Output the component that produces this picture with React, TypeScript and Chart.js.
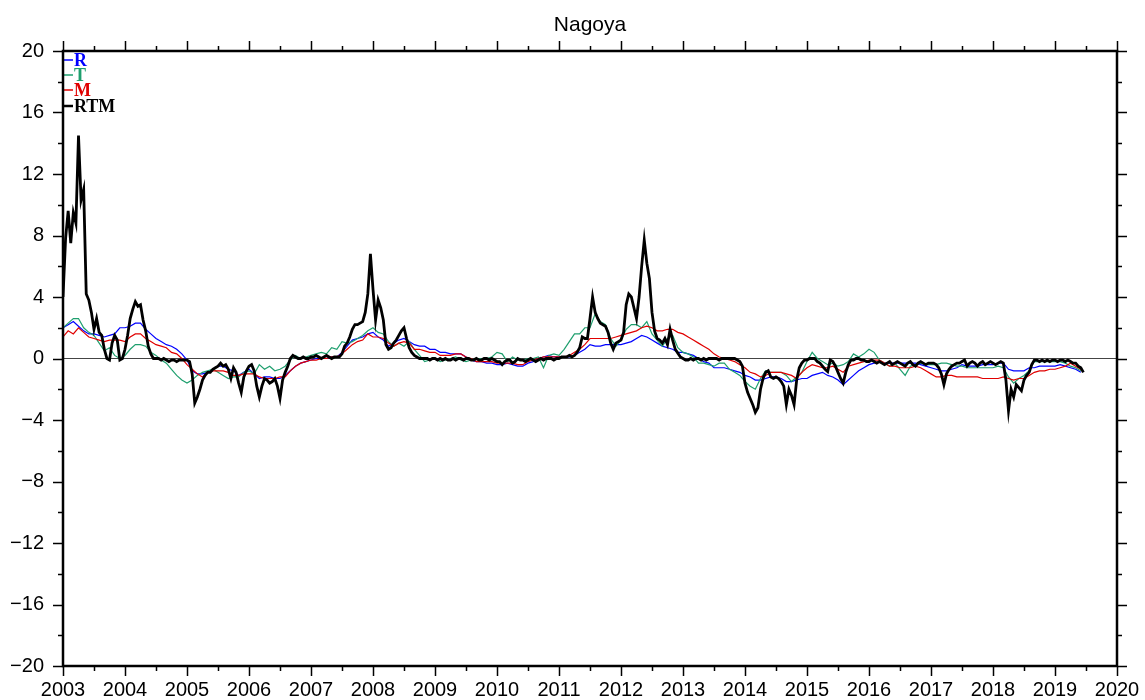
import React, { useEffect, useRef } from "react";
import { Chart, registerables } from "chart.js";

Chart.register(...registerables);

// Time axis: decimal years
const START_YEAR = 2003;
const X_MIN = 2003;
const X_MAX = 2020;
const Y_MIN = -20;
const Y_MAX = 20;

const yearTicks = [2003, 2004, 2005, 2006, 2007, 2008, 2009, 2010, 2011, 2012, 2013, 2014, 2015, 2016, 2017, 2018, 2019, 2020];
const valueTicks = [-20, -16, -12, -8, -4, 0, 4, 8, 12, 16, 20];

const titleText = "Nagoya";
const legendLabels = ["R", "T", "M", "RTM"];

// Monthly values, one row per year (2003 .. mid-2019)
const seriesR = [
  2.0, 2.2, 2.4, 2.1, 1.8, 1.6, 1.6, 1.5, 1.4, 1.5, 1.6, 2.0,
  2.0, 2.1, 2.3, 2.3, 1.9, 1.6, 1.3, 1.1, 0.9, 0.8, 0.6, 0.3,
  -0.1, -0.8, -1.0, -1.0, -0.9, -0.7, -0.5, -0.5, -0.7, -0.8, -1.1, -0.9,
  -0.7, -1.0, -1.3, -1.2, -1.2, -1.3, -1.3, -1.1, -0.8, -0.5, -0.3, -0.2,
  -0.1, 0.0, 0.0, 0.0, 0.1, 0.1, 0.4, 0.8, 1.2, 1.3, 1.4, 1.6,
  1.7, 1.4, 1.2, 0.8, 1.0, 1.2, 1.3, 1.1, 0.9, 0.8, 0.8, 0.6,
  0.6, 0.4, 0.4, 0.3, 0.3, 0.3, 0.1, -0.1, -0.2, -0.2, -0.3, -0.3,
  -0.4, -0.4, -0.3, -0.4, -0.5, -0.5, -0.3, -0.2, 0.0, 0.1, 0.2, 0.1,
  0.1, 0.1, 0.1, 0.2, 0.4, 0.6, 0.9, 0.8, 0.8, 0.9, 0.9, 0.9,
  0.9, 1.0, 1.1, 1.3, 1.5, 1.4, 1.2, 1.0, 0.8, 0.7, 0.6, 0.4,
  0.4, 0.3, 0.2, 0.0, -0.2, -0.3, -0.6, -0.6, -0.6, -0.7, -0.8, -0.9,
  -1.1, -1.2, -1.4, -1.4, -1.3, -1.2, -1.2, -1.3, -1.5, -1.5, -1.4, -1.3,
  -1.3, -1.1, -1.0, -0.9, -1.1, -1.2, -1.4, -1.7, -1.4, -1.1, -0.8, -0.6,
  -0.4, -0.3, -0.2, -0.3, -0.3, -0.3, -0.3, -0.3, -0.3, -0.3, -0.4, -0.5,
  -0.6, -0.7, -0.8, -0.8, -0.7, -0.6, -0.4, -0.5, -0.5, -0.5, -0.4, -0.4,
  -0.4, -0.3, -0.3, -0.7, -0.8, -0.8, -0.8, -0.6, -0.6, -0.5, -0.5, -0.5,
  -0.5, -0.4, -0.5, -0.6, -0.7, -0.9,
];

const seriesT = [
  2.0, 2.3, 2.6, 2.6, 2.0, 1.7, 1.5, 1.0, 0.5, 0.7, 0.2, 0.0,
  0.2, 0.6, 0.9, 0.9, 0.8, 0.4, 0.2, -0.1, -0.3, -0.7, -1.1, -1.4,
  -1.6, -1.4, -1.1, -0.9, -0.8, -0.7, -0.9, -1.1, -1.3, -1.2, -1.2, -0.9,
  -0.8, -1.0, -0.4, -0.7, -0.5, -0.8, -0.7, -0.5, -0.1, 0.2, 0.0, 0.1,
  0.2, 0.3, 0.4, 0.3, 0.7, 0.6, 1.1, 1.0, 1.1, 1.3, 1.5, 1.8,
  2.0, 1.7, 1.6, 1.1, 0.8, 1.0, 0.8, 1.1, 0.6, 0.2, -0.2, -0.1,
  0.0, -0.2, -0.1, 0.0, 0.1, -0.1, -0.2, -0.1, 0.0, 0.0, 0.0, 0.1,
  0.4, 0.3, -0.2, 0.1, -0.1, -0.1, 0.0, 0.0, 0.1, -0.6, 0.2, 0.3,
  0.2, 0.6, 1.1, 1.6, 1.6, 2.0, 2.0, 2.9, 2.4, 2.2, 1.3, 0.8,
  1.2, 1.9, 2.2, 2.2, 2.0, 2.4, 1.6, 1.2, 0.8, 1.3, 1.5, 0.7,
  0.4, 0.3, 0.1, -0.3, -0.3, -0.4, -0.5, -0.3, -0.3, -0.7, -0.9, -1.1,
  -1.5, -1.8, -2.0, -1.3, -0.8, -0.9, -0.9, -0.9, -1.1, -1.5, -1.2, -0.9,
  -0.2, 0.4, 0.0, -0.2, -0.4, -0.3, -0.5, -0.4, -0.2, 0.3, 0.1, 0.3,
  0.6, 0.4, -0.1, -0.3, -0.5, -0.3, -0.7, -1.1, -0.5, -0.4, -0.3, -0.4,
  -0.4, -0.4, -0.3, -0.3, -0.4, -0.5, -0.5, -0.6, -0.6, -0.6, -0.6, -0.6,
  -0.6, -0.5, -0.6, -1.2, -1.6, -1.3, -1.1, -0.8, -0.2, -0.2, -0.2, -0.2,
  -0.2, -0.2, -0.3, -0.5, -0.6, -0.8,
];

const seriesM = [
  1.4, 1.8, 1.6, 2.0, 1.7, 1.4, 1.3, 1.2, 1.1, 1.2, 1.2, 1.2,
  1.1, 1.4, 1.6, 1.6, 1.3, 1.1, 0.9, 0.8, 0.7, 0.4, 0.3, 0.0,
  -0.4, -0.7, -1.0, -1.2, -0.9, -0.8, -0.8, -0.8, -0.9, -1.1, -1.1, -1.0,
  -1.0, -1.0, -1.2, -1.3, -1.3, -1.3, -1.2, -1.2, -0.8, -0.5, -0.3, -0.2,
  -0.1, -0.1, 0.0, 0.0, 0.1, 0.1, 0.3, 0.6, 0.9, 1.1, 1.2, 1.6,
  1.4, 1.4, 1.3, 1.0, 0.8, 1.0, 1.1, 1.0, 0.6, 0.6, 0.5, 0.4,
  0.4, 0.2, 0.2, 0.2, 0.3, 0.3, 0.1, 0.0, -0.2, -0.2, -0.2, -0.2,
  -0.3, -0.3, -0.3, -0.3, -0.4, -0.4, -0.2, -0.1, 0.0, 0.1, 0.1, 0.1,
  0.1, 0.1, 0.2, 0.4, 0.6, 0.9, 1.3, 1.3, 1.3, 1.3, 1.3, 1.4,
  1.5, 1.6, 1.7, 1.8, 2.0, 2.1, 2.0, 1.8, 1.8, 1.9, 1.9, 1.7,
  1.6, 1.4, 1.2, 1.0, 0.8, 0.6, 0.3, 0.1, 0.0, -0.1, -0.2, -0.4,
  -0.6, -0.9, -1.0, -1.2, -1.1, -0.9, -0.9, -0.9, -1.0, -1.1, -1.3, -0.9,
  -0.6, -0.4, -0.5, -0.6, -0.6, -0.5, -0.7, -0.9, -0.5, -0.4, -0.3, -0.2,
  -0.1, -0.1, -0.1, -0.3, -0.5, -0.5, -0.6, -0.6, -0.6, -0.5, -0.6, -0.8,
  -1.0, -1.2, -1.2, -1.1, -1.1, -1.2, -1.2, -1.2, -1.2, -1.2, -1.3, -1.3,
  -1.3, -1.3, -1.2, -1.3, -1.4, -1.3, -1.3, -1.1, -0.9, -0.8, -0.8, -0.7,
  -0.7, -0.6, -0.5, -0.3, -0.5, -0.7,
];

// Half-monthly values, one row per year
const seriesRTM = [
  4.0, 7.8, 9.6, 7.5, 9.5, 8.8, 14.5, 10.3, 11.0, 4.2, 3.8, 3.0, 1.9, 2.6, 1.7, 1.5, 0.6, 0.0, -0.1, 1.0, 1.5, 1.2, -0.1, 0.0,
  0.6, 1.5, 2.6, 3.2, 3.7, 3.4, 3.5, 2.5, 1.8, 0.8, 0.3, 0.0, 0.0, 0.0, -0.1, 0.0, -0.1, -0.2, -0.1, -0.1, -0.2, -0.1, -0.1, -0.1,
  -0.1, -0.2, -1.0, -2.9, -2.5, -2.0, -1.4, -1.1, -0.9, -0.9, -0.7, -0.6, -0.5, -0.3, -0.5, -0.4, -0.7, -1.3, -0.6, -0.9, -1.6, -2.2, -1.2, -0.8,
  -0.5, -0.4, -0.8, -1.8, -2.5, -1.8, -1.3, -1.4, -1.6, -1.5, -1.3, -1.8, -2.6, -1.4, -0.9, -0.5, 0.0, 0.2, 0.1, 0.0, 0.0, 0.1, 0.0, 0.0,
  0.1, 0.1, 0.2, 0.1, 0.0, 0.1, 0.2, 0.1, 0.0, 0.1, 0.1, 0.1, 0.3, 0.8, 1.0, 1.4, 1.9, 2.2, 2.2, 2.3, 2.4, 3.0, 4.2, 6.8,
  4.5, 2.5, 3.8, 3.3, 2.5, 0.9, 0.6, 0.7, 1.0, 1.2, 1.5, 1.8, 2.0, 1.3, 0.7, 0.4, 0.2, 0.1, 0.0, 0.0, 0.0, 0.0, -0.1, 0.0,
  0.0, -0.1, 0.0, -0.1, 0.0, -0.1, -0.1, 0.0, -0.1, 0.0, 0.0, -0.1, 0.0, 0.0, -0.1, -0.1, 0.0, -0.1, -0.1, 0.0, 0.0, -0.1, 0.0, -0.1,
  -0.2, -0.2, -0.4, -0.2, -0.1, -0.1, -0.3, -0.2, 0.0, -0.1, -0.1, -0.2, -0.1, 0.0, -0.1, -0.2, -0.1, 0.0, -0.1, 0.0, 0.0, 0.0, -0.1, 0.0,
  0.0, 0.1, 0.1, 0.1, 0.2, 0.1, 0.2, 0.4, 0.7, 1.4, 1.3, 1.3, 2.6, 4.0, 3.0, 2.6, 2.3, 2.2, 2.1, 1.7, 1.0, 0.6, 1.0, 1.1,
  1.2, 1.7, 3.5, 4.2, 4.0, 3.3, 2.6, 4.0, 6.0, 7.7, 6.2, 5.2, 3.0, 1.8, 1.3, 1.2, 1.0, 1.3, 0.9, 1.9, 1.2, 0.6, 0.35, 0.1,
  0.0, -0.1, -0.1, 0.0, -0.1, 0.0, 0.0, -0.1, 0.0, -0.1, 0.0, 0.0, 0.0, 0.0, -0.1, 0.0, 0.0, 0.0, 0.0, 0.0, 0.0, -0.1, -0.2, -0.5,
  -1.6, -2.2, -2.6, -3.0, -3.5, -3.2, -2.0, -1.3, -0.9, -0.8, -1.2, -1.3, -1.2, -1.3, -1.5, -1.8, -3.0, -2.0, -2.4, -3.0, -1.4, -0.6, -0.3, -0.1,
  -0.1, 0.0, 0.0, 0.0, -0.2, -0.3, -0.5, -0.7, -0.85, -0.1, -0.2, -0.5, -0.9, -1.3, -1.6, -0.9, -0.4, -0.1, -0.1, 0.0, 0.0, -0.1, -0.1, -0.2,
  -0.2, -0.1, -0.2, -0.3, -0.2, -0.3, -0.4, -0.3, -0.2, -0.4, -0.3, -0.2, -0.3, -0.4, -0.5, -0.3, -0.2, -0.4, -0.5, -0.3, -0.2, -0.3, -0.4, -0.3,
  -0.3, -0.3, -0.4, -0.6, -1.0, -1.7, -1.0, -0.7, -0.5, -0.4, -0.3, -0.3, -0.2, -0.1, -0.5, -0.3, -0.2, -0.3, -0.5, -0.3, -0.2, -0.4, -0.3, -0.2,
  -0.3, -0.4, -0.3, -0.2, -0.3, -1.4, -3.4, -2.0, -2.5, -1.7, -1.9, -2.1, -1.4, -1.1, -0.9, -0.4, -0.1, -0.1, -0.2, -0.1, -0.2, -0.1, -0.2, -0.1,
  -0.1, -0.2, -0.1, -0.1, -0.2, -0.1, -0.2, -0.3, -0.3, -0.5, -0.6, -0.9,
];

const COLOR_R = "#0000ff";
const COLOR_T = "#1e9f6e";
const COLOR_M = "#e00000";
const COLOR_RTM = "#000000";

const toPoints = (values: number[], perYear: number) =>
  values.map((v, i) => ({ x: START_YEAR + i / perYear, y: v }));

const formatValue = (v: number) => (v < 0 ? "\u2212" + Math.abs(v) : String(v));

const tickFont = { family: "'Liberation Sans', Arial, Helvetica, sans-serif", size: 20 };

// Frame, outward tick marks, zero line, title and legend
const framePlugin = {
  id: "gmtFrame",
  beforeDatasetsDraw(chart: any) {
    const { ctx, chartArea } = chart;
    const y0 = chart.scales.y.getPixelForValue(0);
    ctx.save();
    ctx.strokeStyle = "#444";
    ctx.lineWidth = 1.2;
    ctx.beginPath();
    ctx.moveTo(chartArea.left, y0);
    ctx.lineTo(chartArea.right, y0);
    ctx.stroke();
    ctx.restore();
  },
  afterDatasetsDraw(chart: any) {
    const { ctx, chartArea } = chart;
    const { left, top } = chartArea;
    const entries = [
      { label: legendLabels[0], color: COLOR_R, width: 1.5, y: top + 9 },
      { label: legendLabels[1], color: COLOR_T, width: 1.5, y: top + 24 },
      { label: legendLabels[2], color: COLOR_M, width: 1.5, y: top + 39 },
      { label: legendLabels[3], color: COLOR_RTM, width: 2.5, y: top + 55 },
    ];
    ctx.save();
    ctx.font = "bold 18px 'Liberation Serif', 'Times New Roman', serif";
    ctx.textBaseline = "middle";
    ctx.textAlign = "left";
    for (const e of entries) {
      ctx.strokeStyle = e.color;
      ctx.lineWidth = e.width;
      ctx.beginPath();
      ctx.moveTo(left, e.y);
      ctx.lineTo(left + 10, e.y);
      ctx.stroke();
      ctx.fillStyle = e.color;
      ctx.fillText(e.label, left + 11, e.y + 1);
    }
    ctx.restore();
  },
  afterDraw(chart: any) {
    const { ctx, chartArea } = chart;
    const { left, right, top, bottom } = chartArea;
    const xs = chart.scales.x;
    const ys = chart.scales.y;
    ctx.save();
    ctx.strokeStyle = "#000";
    ctx.lineWidth = 1.5;
    ctx.beginPath();
    for (let i = 0; i <= (X_MAX - X_MIN) * 2; i++) {
      const v = X_MIN + i / 2;
      const px = Math.round(xs.getPixelForValue(v)) + 0.5;
      const len = i % 2 === 0 ? 10 : 5;
      ctx.moveTo(px, bottom);
      ctx.lineTo(px, bottom + len);
      ctx.moveTo(px, top);
      ctx.lineTo(px, top - len);
    }
    for (let v = Y_MIN; v <= Y_MAX; v += 2) {
      const py = Math.round(ys.getPixelForValue(v)) + 0.5;
      const len = v % 4 === 0 ? 10 : 5;
      ctx.moveTo(left - len, py);
      ctx.lineTo(left, py);
      ctx.moveTo(right, py);
      ctx.lineTo(right + len, py);
    }
    ctx.stroke();
    ctx.lineWidth = 2.5;
    ctx.strokeRect(left, top, right - left, bottom - top);

    ctx.fillStyle = "#000";
    ctx.font = "21px 'Liberation Sans', Arial, Helvetica, sans-serif";
    ctx.textAlign = "center";
    ctx.textBaseline = "alphabetic";
    ctx.fillText(titleText, (left + right) / 2, 31);
    ctx.restore();
  },
};

export default function App() {
  const canvasRef = useRef<HTMLCanvasElement | null>(null);

  useEffect(() => {
    const canvas = canvasRef.current;
    if (!canvas) return;
    const chart = new Chart(canvas, {
      type: "line",
      data: {
        datasets: [
          { label: "R", data: toPoints(seriesR, 12), borderColor: COLOR_R, borderWidth: 1.2, pointRadius: 0, order: 3 },
          { label: "T", data: toPoints(seriesT, 12), borderColor: COLOR_T, borderWidth: 1.2, pointRadius: 0, order: 2 },
          { label: "M", data: toPoints(seriesM, 12), borderColor: COLOR_M, borderWidth: 1.2, pointRadius: 0, order: 1 },
          { label: "RTM", data: toPoints(seriesRTM, 24), borderColor: COLOR_RTM, borderWidth: 2.8, pointRadius: 0, order: 0 },
        ],
      },
      options: {
        animation: false,
        responsive: false,
        maintainAspectRatio: false,
        devicePixelRatio: 1,
        layout: { padding: { top: 51, right: 28, left: 0, bottom: 0 } },
        plugins: {
          legend: { display: false },
          tooltip: { enabled: false },
          title: { display: false },
        },
        scales: {
          x: {
            type: "linear",
            min: X_MIN,
            max: X_MAX,
            afterBuildTicks: (scale: any) => {
              scale.ticks = yearTicks.map((v) => ({ value: v }));
            },
            afterFit: (scale: any) => {
              scale.height = 34;
              scale.paddingLeft = 0;
              scale.paddingRight = 0;
            },
            ticks: {
              autoSkip: false,
              maxRotation: 0,
              padding: 12,
              color: "#000",
              font: tickFont,
              callback: (v: any) => String(v),
            },
            grid: { display: false, drawTicks: false },
            border: { display: false },
          },
          y: {
            type: "linear",
            min: Y_MIN,
            max: Y_MAX,
            afterBuildTicks: (scale: any) => {
              scale.ticks = valueTicks.map((v) => ({ value: v }));
            },
            afterFit: (scale: any) => {
              scale.width = 63;
              scale.paddingTop = 0;
              scale.paddingBottom = 0;
            },
            ticks: {
              autoSkip: false,
              padding: 19,
              color: "#000",
              font: tickFont,
              callback: (v: any) => formatValue(Number(v)),
            },
            grid: { display: false, drawTicks: false },
            border: { display: false },
          },
        },
      },
      plugins: [framePlugin],
    });
    return () => chart.destroy();
  }, []);

  return (
    <div style={{ position: "fixed", left: 0, top: 0, width: 1145, height: 700, background: "#fff" }}>
      <canvas ref={canvasRef} width={1145} height={700} />
    </div>
  );
}
